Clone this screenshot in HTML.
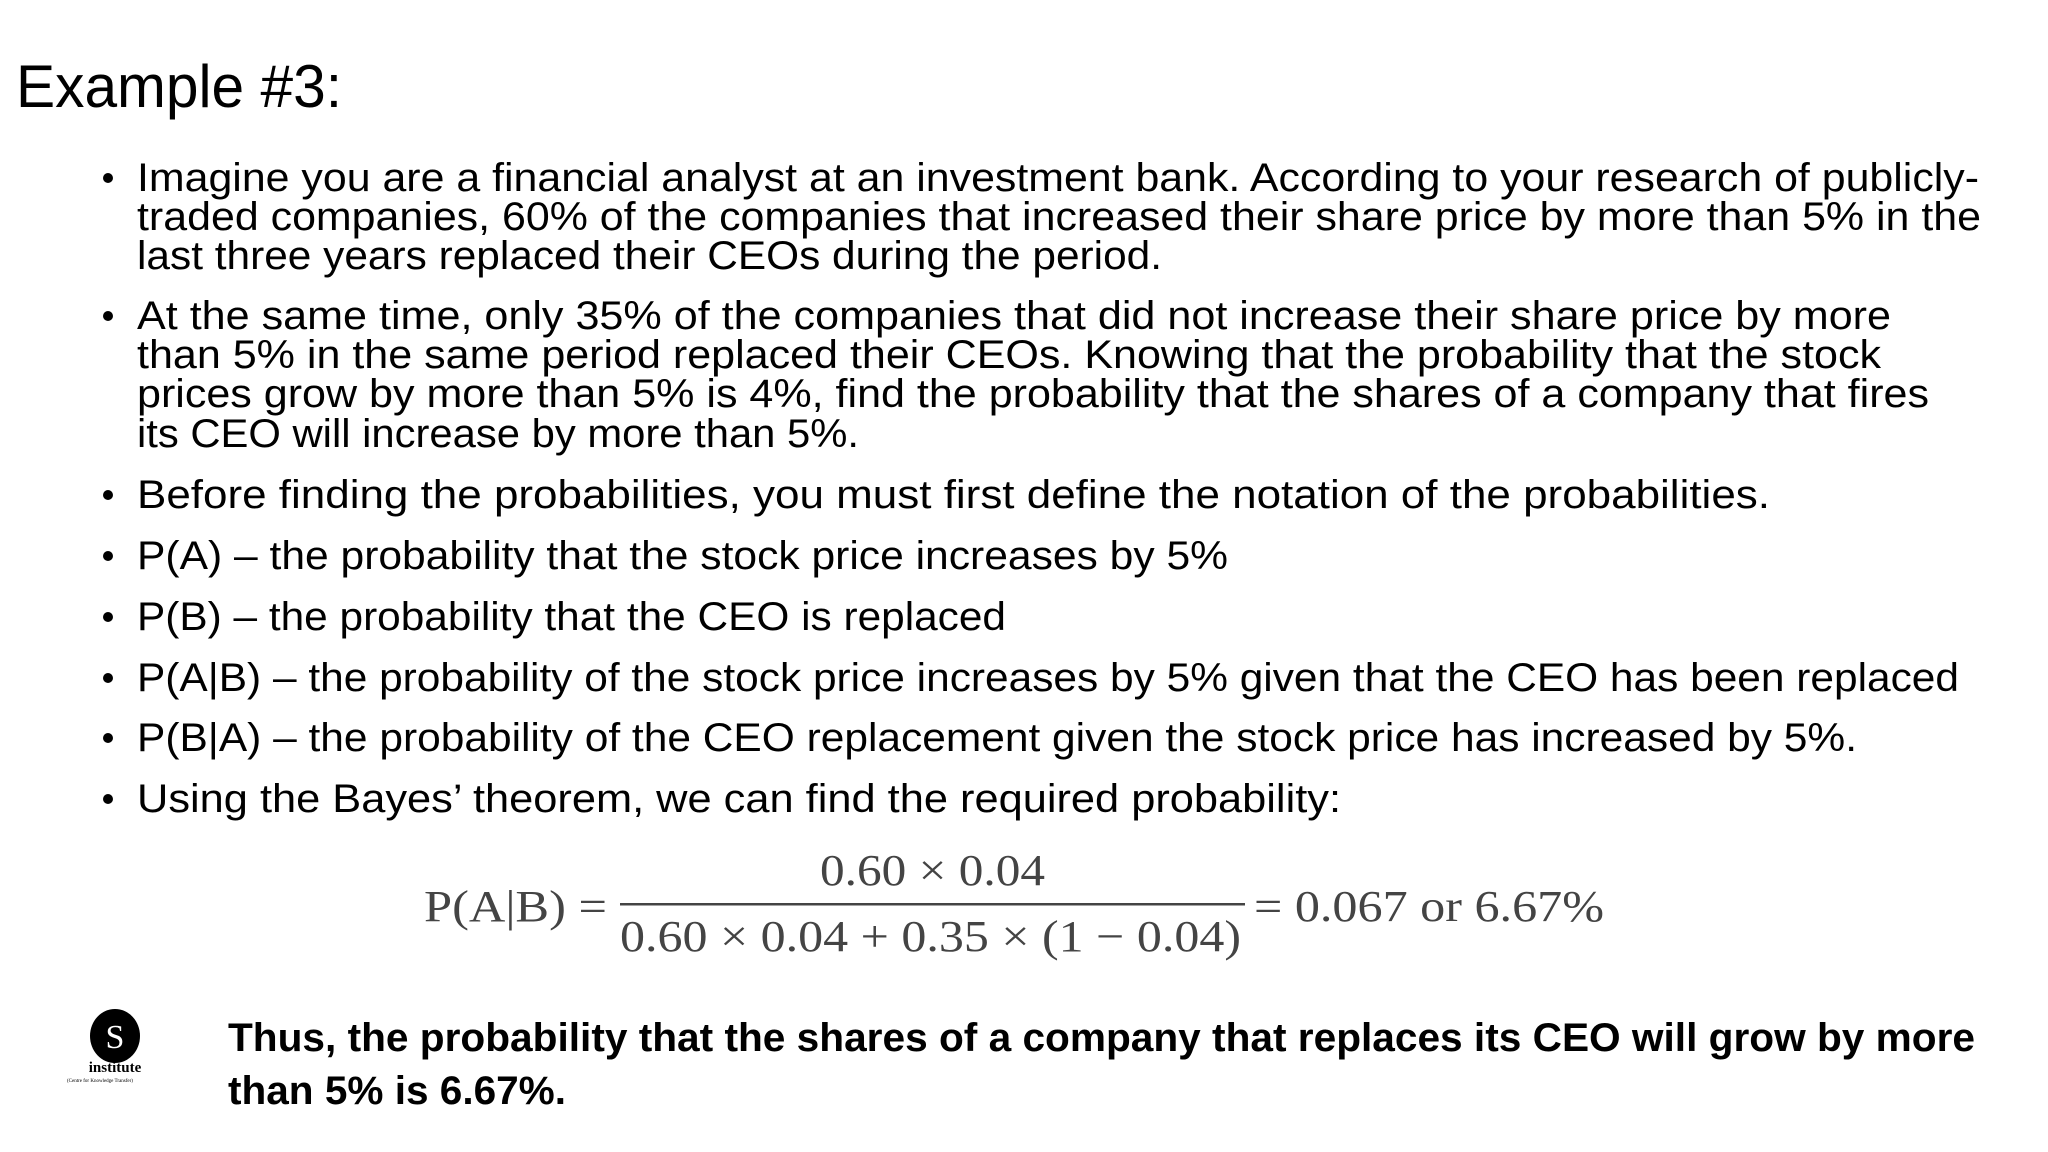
<!DOCTYPE html>
<html><head><meta charset="utf-8"><style>
html,body{margin:0;padding:0;background:#fff;}
svg{display:block;}
</style></head><body>
<svg width="2048" height="1152" viewBox="0 0 2048 1152" xmlns="http://www.w3.org/2000/svg" font-family="Liberation Sans, sans-serif">
<rect width="2048" height="1152" fill="#fff"/>
<text x="16" y="107" font-size="60" fill="#000" textLength="326" lengthAdjust="spacingAndGlyphs">Example #3:</text>
<g font-size="40" fill="#000">
<g>
<circle cx="108" cy="178" r="5"/><circle cx="108" cy="316" r="5"/><circle cx="108" cy="495" r="5"/><circle cx="108" cy="556" r="5"/><circle cx="108" cy="617" r="5"/><circle cx="108" cy="678" r="5"/><circle cx="108" cy="738" r="5"/><circle cx="108" cy="799" r="5"/>
</g>
<text x="137" y="191" textLength="1842" lengthAdjust="spacingAndGlyphs">Imagine you are a financial analyst at an investment bank. According to your research of publicly-</text>
<text x="137" y="230" textLength="1844" lengthAdjust="spacingAndGlyphs">traded companies, 60% of the companies that increased their share price by more than 5% in the</text>
<text x="137" y="269" textLength="1025" lengthAdjust="spacingAndGlyphs">last three years replaced their CEOs during the period.</text>
<text x="137" y="329" textLength="1754" lengthAdjust="spacingAndGlyphs">At the same time, only 35% of the companies that did not increase their share price by more</text>
<text x="137" y="368" textLength="1744" lengthAdjust="spacingAndGlyphs">than 5% in the same period replaced their CEOs. Knowing that the probability that the stock</text>
<text x="137" y="407" textLength="1792" lengthAdjust="spacingAndGlyphs">prices grow by more than 5% is 4%, find the probability that the shares of a company that fires</text>
<text x="137" y="447" textLength="722" lengthAdjust="spacingAndGlyphs">its CEO will increase by more than 5%.</text>
<text x="137" y="508" textLength="1633" lengthAdjust="spacingAndGlyphs">Before finding the probabilities, you must first define the notation of the probabilities.</text>
<text x="137" y="569" textLength="1091" lengthAdjust="spacingAndGlyphs">P(A) – the probability that the stock price increases by 5%</text>
<text x="137" y="630" textLength="869" lengthAdjust="spacingAndGlyphs">P(B) – the probability that the CEO is replaced</text>
<text x="137" y="691" textLength="1822" lengthAdjust="spacingAndGlyphs">P(A|B) – the probability of the stock price increases by 5% given that the CEO has been replaced</text>
<text x="137" y="751" textLength="1720" lengthAdjust="spacingAndGlyphs">P(B|A) – the probability of the CEO replacement given the stock price has increased by 5%.</text>
<text x="137" y="812" textLength="1204" lengthAdjust="spacingAndGlyphs">Using the Bayes’ theorem, we can find the required probability:</text>
</g>
<g font-family="Liberation Serif, serif" font-size="44" fill="#444">
<text x="424" y="921" textLength="183" lengthAdjust="spacingAndGlyphs">P(A|B) =</text>
<text x="820" y="885" textLength="225" lengthAdjust="spacingAndGlyphs">0.60 × 0.04</text>
<rect x="620" y="903" width="625" height="2.5" fill="#444"/>
<text x="620" y="951" textLength="621" lengthAdjust="spacingAndGlyphs">0.60 × 0.04 + 0.35 × (1 − 0.04)</text>
<text x="1254" y="921" textLength="350" lengthAdjust="spacingAndGlyphs">= 0.067 or 6.67%</text>
</g>
<g>
<ellipse cx="115" cy="1036" rx="25" ry="27" fill="#000"/>
<text x="115" y="1048" font-family="Liberation Serif, serif" font-size="34" fill="#fff" text-anchor="middle">S</text>
<text x="115" y="1072" font-family="Liberation Serif, serif" font-size="15" font-weight="bold" fill="#000" text-anchor="middle">institute</text>
<text x="100" y="1082" font-family="Liberation Serif, serif" font-size="5" fill="#000" text-anchor="middle">(Centre for Knowledge Transfer)</text>
</g>
<g font-size="40" font-weight="bold" fill="#000">
<text x="228" y="1051" textLength="1747" lengthAdjust="spacingAndGlyphs">Thus, the probability that the shares of a company that replaces its CEO will grow by more</text>
<text x="228" y="1104" textLength="338" lengthAdjust="spacingAndGlyphs">than 5% is 6.67%.</text>
</g>
</svg>
</body></html>
